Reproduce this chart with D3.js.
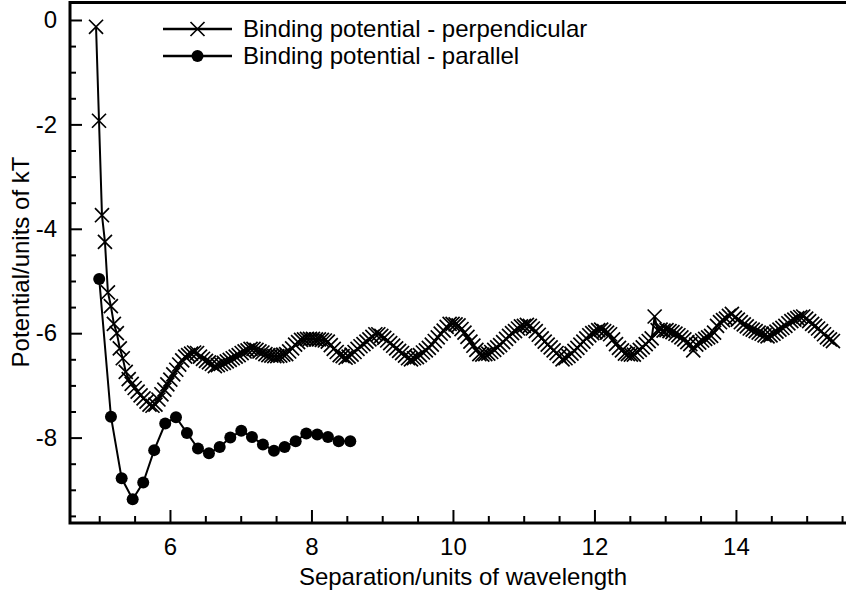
<!DOCTYPE html>
<html>
<head>
<meta charset="utf-8">
<script src="https://cdn.jsdelivr.net/npm/d3@7/dist/d3.min.js"></script>
<style>
  html, body { margin: 0; padding: 0; background: #fff; }
  svg { display: block; }
  text { font-family: 'Liberation Sans', Arial, Helvetica, sans-serif; fill: #000; }
</style>
</head>
<body>
<svg id="chart" width="846" height="594"></svg>
<script>
// Binding potential (units of kT) against separation (units of wavelength)

// Perpendicular orientation: separations and potentials
const perpX = [
  4.955, 4.997, 5.039, 5.081, 5.123, 5.165, 5.207, 5.249, 5.291, 5.333,
  5.375, 5.417, 5.459, 5.501, 5.543, 5.585, 5.627, 5.669, 5.711, 5.753,
  5.795, 5.837, 5.879, 5.921, 5.963, 6.005, 6.047, 6.089, 6.131, 6.173,
  6.215, 6.257, 6.299, 6.341, 6.383, 6.425, 6.467, 6.509, 6.551, 6.593,
  6.635, 6.677, 6.719, 6.761, 6.803, 6.845, 6.887, 6.929, 6.971, 7.013,
  7.055, 7.097, 7.139, 7.181, 7.223, 7.265, 7.307, 7.349, 7.391, 7.433,
  7.475, 7.517, 7.559, 7.601, 7.643, 7.685, 7.727, 7.769, 7.811, 7.853,
  7.895, 7.937, 7.979, 8.021, 8.063, 8.105, 8.147, 8.189, 8.231, 8.273,
  8.315, 8.357, 8.399, 8.441, 8.483, 8.525, 8.567, 8.609, 8.651, 8.693,
  8.735, 8.777, 8.819, 8.861, 8.903, 8.945, 8.987, 9.029, 9.071, 9.113,
  9.155, 9.197, 9.239, 9.281, 9.323, 9.365, 9.407, 9.449, 9.491, 9.533,
  9.575, 9.617, 9.659, 9.701, 9.743, 9.785, 9.827, 9.869, 9.911, 9.953,
  9.995, 10.037, 10.079, 10.121, 10.163, 10.205, 10.247, 10.289, 10.331, 10.373,
  10.415, 10.457, 10.499, 10.541, 10.583, 10.625, 10.667, 10.709, 10.751, 10.793,
  10.835, 10.877, 10.919, 10.961, 11.003, 11.045, 11.087, 11.129, 11.171, 11.213,
  11.255, 11.297, 11.339, 11.381, 11.423, 11.465, 11.507, 11.549, 11.591, 11.633,
  11.675, 11.717, 11.759, 11.801, 11.843, 11.885, 11.927, 11.969, 12.011, 12.053,
  12.095, 12.137, 12.179, 12.221, 12.263, 12.305, 12.347, 12.389, 12.431, 12.473,
  12.515, 12.557, 12.599, 12.641, 12.683, 12.725, 12.767, 12.809, 12.851, 12.893,
  12.935, 12.977, 13.019, 13.061, 13.103, 13.145, 13.187, 13.229, 13.271, 13.313,
  13.355, 13.397, 13.439, 13.481, 13.523, 13.565, 13.607, 13.649, 13.691, 13.733,
  13.775, 13.817, 13.859, 13.901, 13.943, 13.985, 14.027, 14.069, 14.111, 14.153,
  14.195, 14.237, 14.279, 14.321, 14.363, 14.405, 14.447, 14.489, 14.531, 14.573,
  14.615, 14.657, 14.699, 14.741, 14.783, 14.825, 14.867, 14.909, 14.951, 14.993,
  15.035, 15.077, 15.119, 15.161, 15.203, 15.245, 15.287, 15.329, 15.371
];
const perpY = [
  -0.13, -1.93, -3.74, -4.25, -5.22, -5.48, -5.82, -6.00, -6.29, -6.48,
  -6.74, -6.88, -6.97, -7.05, -7.12, -7.19, -7.25, -7.31, -7.37, -7.39,
  -7.37, -7.27, -7.17, -7.08, -6.98, -6.89, -6.79, -6.70, -6.60, -6.52,
  -6.45, -6.42, -6.39, -6.37, -6.38, -6.45, -6.49, -6.53, -6.56, -6.59,
  -6.63, -6.61, -6.59, -6.57, -6.54, -6.51, -6.48, -6.45, -6.42, -6.38,
  -6.35, -6.33, -6.30, -6.30, -6.32, -6.35, -6.37, -6.40, -6.42, -6.43,
  -6.44, -6.44, -6.43, -6.41, -6.40, -6.35, -6.29, -6.22, -6.17, -6.13,
  -6.12, -6.11, -6.11, -6.11, -6.12, -6.12, -6.13, -6.14, -6.16, -6.23,
  -6.30, -6.36, -6.42, -6.44, -6.47, -6.45, -6.41, -6.36, -6.30, -6.25,
  -6.21, -6.16, -6.12, -6.07, -6.02, -6.02, -6.05, -6.09, -6.14, -6.19,
  -6.24, -6.29, -6.34, -6.38, -6.43, -6.48, -6.50, -6.48, -6.46, -6.42,
  -6.37, -6.33, -6.28, -6.22, -6.15, -6.08, -6.01, -5.95, -5.88, -5.82,
  -5.82, -5.83, -5.85, -5.92, -5.99, -6.07, -6.16, -6.24, -6.32, -6.40,
  -6.41, -6.40, -6.39, -6.36, -6.32, -6.27, -6.23, -6.17, -6.11, -6.05,
  -6.00, -5.96, -5.91, -5.87, -5.86, -5.84, -5.86, -5.91, -5.96, -6.03,
  -6.10, -6.16, -6.22, -6.27, -6.33, -6.38, -6.44, -6.50, -6.48, -6.44,
  -6.39, -6.34, -6.28, -6.22, -6.16, -6.10, -6.04, -6.00, -5.98, -5.94,
  -5.93, -5.96, -5.99, -6.02, -6.12, -6.21, -6.28, -6.33, -6.39, -6.40,
  -6.41, -6.41, -6.36, -6.32, -6.27, -6.21, -6.15, -6.10, -5.68, -5.94,
  -5.93, -5.95, -5.94, -5.96, -5.98, -6.01, -6.04, -6.08, -6.12, -6.17,
  -6.21, -6.33, -6.22, -6.18, -6.14, -6.11, -6.08, -6.05, -5.99, -5.86,
  -5.79, -5.75, -5.72, -5.67, -5.63, -5.70, -5.74, -5.79, -5.83, -5.87,
  -5.91, -5.93, -5.96, -5.99, -6.01, -6.04, -6.06, -6.04, -6.01, -5.97,
  -5.93, -5.90, -5.86, -5.81, -5.77, -5.74, -5.71, -5.69, -5.68, -5.72,
  -5.77, -5.82, -5.86, -5.91, -5.96, -6.02, -6.08, -6.12, -6.15
];

// Parallel orientation: separations and potentials
const paraX = [
  5.000, 5.166, 5.317, 5.473, 5.622, 5.777, 5.933, 6.085, 6.240, 6.396,
  6.551, 6.703, 6.853, 7.008, 7.159, 7.314, 7.470, 7.621, 7.777, 7.927,
  8.082, 8.233, 8.385, 8.549
];
const paraY = [
  -4.96, -7.60, -8.78, -9.18, -8.86, -8.24, -7.73, -7.61, -7.91, -8.21,
  -8.30, -8.18, -8.00, -7.87, -7.99, -8.13, -8.25, -8.18, -8.07, -7.92,
  -7.94, -7.99, -8.07, -8.07
];

// Axis ticks and labels
const xMajorTicks = [6, 8, 10, 12, 14];
const xMinorTicks = [5, 5.5, 6.5, 7, 7.5, 8.5, 9, 9.5, 10.5, 11, 11.5, 12.5, 13, 13.5, 14.5, 15, 15.5];
const yMajorTicks = [0, -2, -4, -6, -8];
const yMinorTicks = [-0.5, -1, -1.5, -2.5, -3, -3.5, -4.5, -5, -5.5, -6.5, -7, -7.5, -8.5, -9, -9.5];
const seriesNames = ["Binding potential - perpendicular", "Binding potential - parallel"];
const xTitle = "Separation/units of wavelength";
const yTitle = "Potential/units of kT";

const FONT_SIZE = "24px";

const svg = d3.select("#chart");
const plotLeft = 70, plotRight = 846.3, plotTop = 2.5, plotBottom = 523;

const x = d3.scaleLinear().domain([4.587, 15.56]).range([plotLeft, plotRight]);
const y = d3.scaleLinear().domain([-9.636, 0.335]).range([plotBottom, plotTop]);

// Ticks point inward from the left and bottom axes
const gy = svg.append("g").attr("transform", `translate(${plotLeft},0)`);
gy.call(d3.axisLeft(y).tickValues(yMajorTicks).tickSize(-12).tickPadding(13).tickFormat(d => String(d)));
gy.call(g => g.select(".domain").remove());
gy.selectAll(".tick line").attr("stroke", "#000").attr("stroke-width", 2);
gy.selectAll(".tick text").style("font-size", FONT_SIZE).attr("font-family", null);
const gyMinor = svg.append("g").attr("transform", `translate(${plotLeft},0)`);
gyMinor.call(d3.axisLeft(y).tickValues(yMinorTicks).tickSize(-6).tickFormat(""));
gyMinor.call(g => g.select(".domain").remove());
gyMinor.selectAll(".tick line").attr("stroke", "#000").attr("stroke-width", 2);

const gx = svg.append("g").attr("transform", `translate(0,${plotBottom})`);
gx.call(d3.axisBottom(x).tickValues(xMajorTicks).tickSize(-13).tickPadding(15).tickFormat(d => String(d)));
gx.call(g => g.select(".domain").remove());
gx.selectAll(".tick line").attr("stroke", "#000").attr("stroke-width", 2);
gx.selectAll(".tick text").style("font-size", FONT_SIZE).attr("font-family", null);
const gxMinor = svg.append("g").attr("transform", `translate(0,${plotBottom})`);
gxMinor.call(d3.axisBottom(x).tickValues(xMinorTicks).tickSize(-7).tickFormat(""));
gxMinor.call(g => g.select(".domain").remove());
gxMinor.selectAll(".tick line").attr("stroke", "#000").attr("stroke-width", 2);

// Frame: left, bottom and top edges
svg.append("path")
  .attr("d", `M${plotRight},${plotTop}H${plotLeft}V${plotBottom}H${plotRight}`)
  .attr("fill", "none").attr("stroke", "#000").attr("stroke-width", 3);

// Axis titles
svg.append("text")
  .attr("x", 463).attr("y", 585)
  .attr("text-anchor", "middle")
  .style("font-size", FONT_SIZE)
  .text(xTitle);
svg.append("text")
  .attr("transform", `translate(29,262) rotate(-90)`)
  .attr("text-anchor", "middle")
  .style("font-size", FONT_SIZE)
  .text(yTitle);

const line = d3.line().x(d => x(d[0])).y(d => y(d[1]));
const perpData = perpX.map((v, i) => [v, perpY[i]]);
const paraData = paraX.map((v, i) => [v, paraY[i]]);

const cross = d3.symbol().type(d3.symbolX).size(130);

// Perpendicular series: line with cross markers
svg.append("path").datum(perpData)
  .attr("d", line).attr("fill", "none").attr("stroke", "#000").attr("stroke-width", 2);
svg.append("g").selectAll("path").data(perpData).join("path")
  .attr("transform", d => `translate(${x(d[0])},${y(d[1])})`)
  .attr("d", cross).attr("fill", "none").attr("stroke", "#000").attr("stroke-width", 1.7);

// Parallel series: line with filled circles
svg.append("path").datum(paraData)
  .attr("d", line).attr("fill", "none").attr("stroke", "#000").attr("stroke-width", 2);
svg.append("g").selectAll("circle").data(paraData).join("circle")
  .attr("cx", d => x(d[0])).attr("cy", d => y(d[1])).attr("r", 6).attr("fill", "#000");

// Legend
const legendRows = [29, 56];
const legend = svg.append("g");
legendRows.forEach((ly, i) => {
  legend.append("line").attr("x1", 163).attr("x2", 232).attr("y1", ly).attr("y2", ly)
    .attr("stroke", "#000").attr("stroke-width", 2.5);
  if (i === 0) {
    legend.append("path").attr("transform", `translate(197.5,${ly})`)
      .attr("d", cross).attr("fill", "none").attr("stroke", "#000").attr("stroke-width", 1.7);
  } else {
    legend.append("circle").attr("cx", 197.5).attr("cy", ly).attr("r", 6).attr("fill", "#000");
  }
  legend.append("text").attr("x", 243).attr("y", ly).attr("dy", "0.35em")
    .style("font-size", FONT_SIZE).text(seriesNames[i]);
});
</script>
</body>
</html>
